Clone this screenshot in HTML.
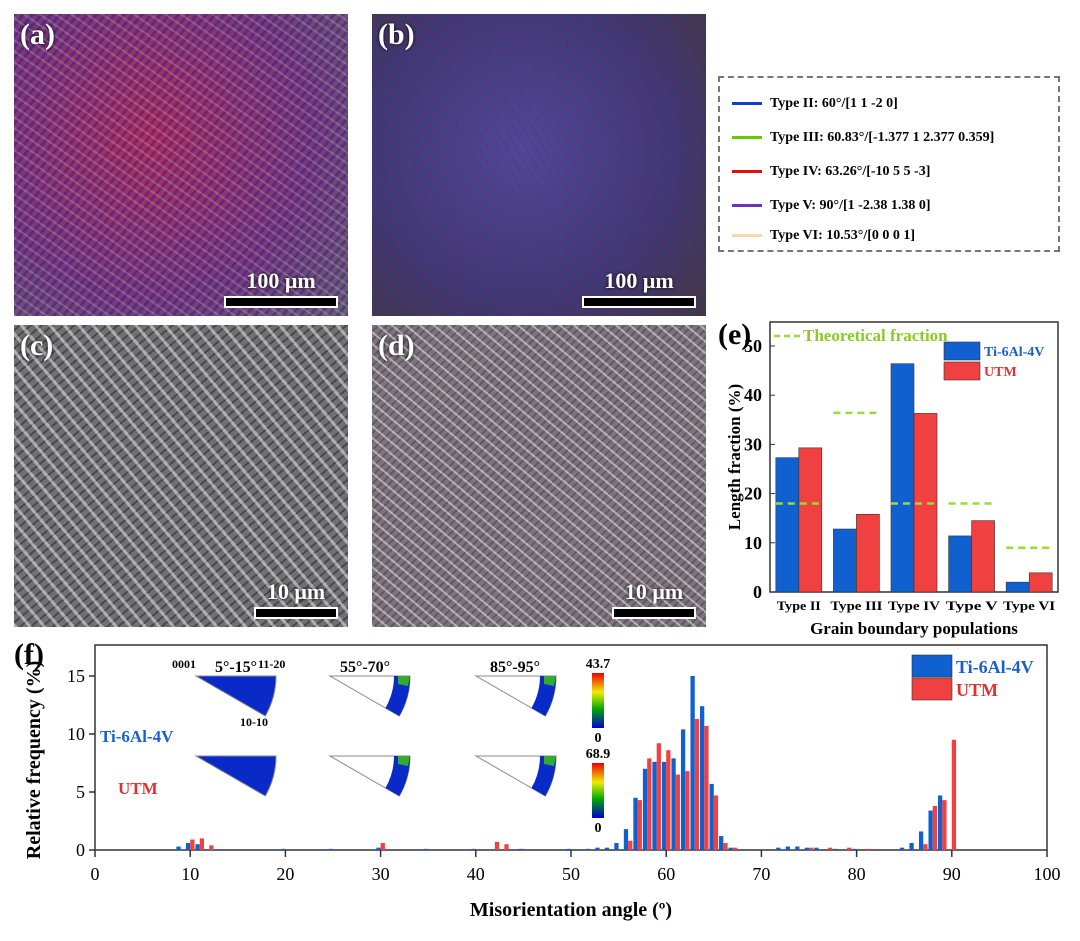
<!DOCTYPE html>
<html><head><meta charset="utf-8"><style>
body{margin:0;width:1080px;height:941px;background:#fff;font-family:"Liberation Serif",serif;position:relative;overflow:hidden}
.mic{position:absolute;width:334px;height:302px;overflow:hidden}
.lab{position:absolute;left:6px;top:4px;font-weight:bold;font-size:30px;color:#fff;text-shadow:0 0 3px #000}
.sb{position:absolute;right:10px;bottom:8px;text-align:center;color:#fff;font-weight:bold;font-size:22px;text-shadow:0 0 3px #000}
.sb div{height:8px;background:#000;border:2px solid #fff;margin-top:2px}
</style></head><body>
<div class="mic" style="left:14px;top:14px;background:repeating-linear-gradient(35deg,rgba(255,255,255,.18) 0 2px,transparent 2px 9px),repeating-linear-gradient(-50deg,rgba(0,0,200,.3) 0 3px,transparent 3px 7px),radial-gradient(circle at 40% 40%,#b03050,#7a3a70 60%,#6a6068)"><span class="lab">(a)</span><div class="sb">100 μm<div style="width:110px"></div></div></div>
<div class="mic" style="left:372px;top:14px;background:repeating-linear-gradient(60deg,rgba(200,0,50,.22) 0 2px,transparent 2px 8px),radial-gradient(circle at 45% 45%,#4a4a9a,#3a3a78 60%,#3a3a48)"><span class="lab">(b)</span><div class="sb">100 μm<div style="width:110px"></div></div></div>
<div class="mic" style="left:14px;top:325px;background:repeating-linear-gradient(50deg,rgba(255,255,255,.45) 0 3px,transparent 3px 11px),repeating-linear-gradient(-40deg,rgba(0,0,0,.35) 0 2px,transparent 2px 7px),#707074"><span class="lab">(c)</span><div class="sb">10 μm<div style="width:80px"></div></div></div>
<div class="mic" style="left:372px;top:325px;background:repeating-linear-gradient(40deg,rgba(255,255,255,.45) 0 2px,transparent 2px 9px),repeating-linear-gradient(-45deg,rgba(60,40,80,.4) 0 2px,transparent 2px 6px),#7c7478"><span class="lab">(d)</span><div class="sb">10 μm<div style="width:80px"></div></div></div>

<div style="position:absolute;left:718px;top:76px;width:342px;height:176px;border:2px dashed #777;box-sizing:border-box;font-size:14px;font-weight:bold">
<div style="position:absolute;left:12px;top:18px"><span style="display:inline-block;width:30px;height:3px;background:#1040c0;vertical-align:middle;margin-right:8px"></span>Type II: 60°/[1 1 -2 0]</div>
<div style="position:absolute;left:12px;top:52px"><span style="display:inline-block;width:30px;height:3px;background:#6c0;vertical-align:middle;margin-right:8px"></span>Type III: 60.83°/[-1.377 1 2.377 0.359]</div>
<div style="position:absolute;left:12px;top:86px"><span style="display:inline-block;width:30px;height:3px;background:#e01010;vertical-align:middle;margin-right:8px"></span>Type IV: 63.26°/[-10 5 5 -3]</div>
<div style="position:absolute;left:12px;top:120px"><span style="display:inline-block;width:30px;height:3px;background:#7030c0;vertical-align:middle;margin-right:8px"></span>Type V: 90°/[1 -2.38 1.38 0]</div>
<div style="position:absolute;left:12px;top:150px"><span style="display:inline-block;width:30px;height:3px;background:#fcd8b0;vertical-align:middle;margin-right:8px"></span>Type VI: 10.53°/[0 0 0 1]</div>
</div>

<svg id="e" width="1080" height="941" style="position:absolute;left:0;top:0" font-family="Liberation Serif" font-weight="bold"></svg>
<script>
const eCats=["Type II","Type III","Type IV","Type V","Type VI"];
const eTi=[27.3,12.8,46.4,11.4,2];
const eUTM=[29.3,15.8,36.3,14.5,3.9];
const eTheo=[18,36.4,18,18,9];
const eTicks=[0,10,20,30,40,50];
const fTiAng=[9,10,11,20,25,30,35,40,45,50,52,53,54,55,56,57,58,59,60,61,62,63,64,65,66,67,72,73,74,75,76,78,80,85,86,87,88,89];
const fTiVal=[0.3,0.6,0.5,0.1,0.1,0.2,0.1,0.1,0.1,0.1,0.1,0.2,0.2,0.6,1.8,4.5,7,7.6,7.6,7.9,10.4,15,12.4,5.7,1.2,0.2,0.2,0.3,0.3,0.2,0.2,0.1,0.1,0.2,0.6,1.6,3.4,4.7];
const fUAng=[10,11,12,30,42,43,56,57,58,59,60,61,62,63,64,65,66,67,75,77,79,81,87,88,89,90];
const fUVal=[0.9,1.0,0.4,0.6,0.7,0.5,0.8,4.3,7.9,9.2,8.6,6.5,6.8,11.3,10.7,4.7,0.6,0.2,0.2,0.2,0.2,0.1,0.5,3.8,4.3,9.5];
const fXT=[0,10,20,30,40,50,60,70,80,90,100];
const fYT=[0,5,10,15];
const svg=document.getElementById('e');const NS='http://www.w3.org/2000/svg';
function mk(t,a,txt){const e=document.createElementNS(NS,t);for(const k in a)e.setAttribute(k,a[k]);if(txt!==undefined)e.textContent=txt;svg.appendChild(e);return e;}
const ex0=770,ex1=1058,ey0=592,eyTop=322;
const ey=v=>ey0-v*4.92;const band=(ex1-ex0)/5;const ex=i=>ex0+band*i+band/2;
let el;
el=mk('rect',{x:ex0,y:eyTop,width:ex1-ex0,height:ey0-eyTop,fill:'none',stroke:'#333','stroke-width':1.5});


eTicks.forEach(t=>{el=mk('text',{x:ex0-8,y:ey(t)+6,'text-anchor':'end','font-size':18},t);


mk('line',{x1:ex0,x2:ex0+5,y1:ey(t),y2:ey(t),stroke:'#333'});});
eCats.forEach((c,i)=>{
el=mk('rect',{x:ex(i)-23,y:ey(eTi[i]),width:23,height:ey0-ey(eTi[i]),fill:'#1060d0',stroke:'#333','stroke-width':0.6});


el=mk('rect',{x:ex(i),y:ey(eUTM[i]),width:23,height:ey0-ey(eUTM[i]),fill:'#f04040',stroke:'#333','stroke-width':0.6});


el=mk('line',{x1:ex(i)-23,x2:ex(i)+23,y1:ey(eTheo[i]),y2:ey(eTheo[i]),stroke:'#9d3','stroke-width':2.5,'stroke-dasharray':'7 5'});


el=mk('text',{x:ex(i),y:ey0+18,'text-anchor':'middle','font-size':13,textLength:i==0?44:52,lengthAdjust:'spacingAndGlyphs'},c);


});
el=mk('text',{x:718,y:344,'font-size':30},'(e)');
el=mk('text',{x:914,y:634,'text-anchor':'middle','font-size':17},'Grain boundary populations');
el=mk('text',{x:740,y:457,'text-anchor':'middle','font-size':17,transform:'rotate(-90 740 457)'},'Length fraction (%)');
mk('line',{x1:774,x2:802,y1:336,y2:336,stroke:'#9d3','stroke-width':2.5,'stroke-dasharray':'6 4'});
el=mk('text',{x:803,y:341,'font-size':17,fill:'#8c2'},'Theoretical fraction');
mk('rect',{x:944,y:342,width:36,height:18,fill:'#1060d0',stroke:'#333','stroke-width':0.6});mk('rect',{x:944,y:362,width:36,height:18,fill:'#f04040',stroke:'#333','stroke-width':0.6});
el=mk('text',{x:984,y:356,'font-size':14,fill:'#1a5fd0'},'Ti-6Al-4V');
el=mk('text',{x:984,y:376,'font-size':14,fill:'#e03030'},'UTM');
const fx0=95,fx1=1047,fy0=850,fTop=645;
const fx=v=>fx0+(fx1-fx0)*v/100;const fy=v=>fy0-v*11.6;
el=mk('rect',{x:fx0,y:fTop,width:fx1-fx0,height:fy0-fTop,fill:'none',stroke:'#333','stroke-width':1.5});


fXT.forEach(t=>{mk('line',{x1:fx(t),x2:fx(t),y1:fy0,y2:fy0+7,stroke:'#333','stroke-width':1.5});
el=mk('text',{x:fx(t),y:fy0+30,'text-anchor':'middle','font-size':18,'font-weight':'normal'},t);

});
fYT.forEach(t=>{mk('line',{x1:fx0-6,x2:fx0,y1:fy(t),y2:fy(t),stroke:'#333','stroke-width':1.5});
el=mk('text',{x:fx0-10,y:fy(t)+6,'text-anchor':'end','font-size':18,'font-weight':'normal'},t);

});
const bw=(fx1-fx0)/100*0.45;
fTiAng.forEach((a,i)=>{el=mk('rect',{x:fx(a)-bw,y:fy(fTiVal[i]),width:bw,height:fy0-fy(fTiVal[i]),fill:'#1060d0'});

});
fUAng.forEach((a,i)=>{el=mk('rect',{x:fx(a),y:fy(fUVal[i]),width:bw,height:fy0-fy(fUVal[i]),fill:'#f04040'});

});
el=mk('text',{x:14,y:664,'font-size':30},'(f)');
el=mk('text',{x:571,y:916,'text-anchor':'middle','font-size':20},'Misorientation angle (º)');
el=mk('text',{x:40,y:760,'text-anchor':'middle','font-size':20,transform:'rotate(-90 40 760)'},'Relative frequency (%)');
mk('rect',{x:912,y:655,width:40,height:22,fill:'#1060d0',stroke:'#333','stroke-width':0.6});mk('rect',{x:912,y:678,width:40,height:22,fill:'#f04040',stroke:'#333','stroke-width':0.6});
el=mk('text',{x:956,y:673,'font-size':18,fill:'#1a5fd0'},'Ti-6Al-4V');
el=mk('text',{x:956,y:696,'font-size':18,fill:'#e03030'},'UTM');
[['5°-15°',236],['55°-70°',365],['85°-95°',515]].forEach(([t,x])=>{el=mk('text',{x:x,y:672,'text-anchor':'middle','font-size':16},t);});
function wedge(x,y,full){const r=80;const a=Math.PI/6;const ex_=x+r*Math.cos(a),ey_=y+r*Math.sin(a);
mk('path',{d:`M${x},${y} L${x+r},${y} A${r},${r} 0 0 1 ${ex_},${ey_} Z`,fill:full?'#0a2ac8':'#fff',stroke:'#888','stroke-width':1});
if(!full){const r2=64;mk('path',{d:`M${x+r2},${y} L${x+r},${y} A${r},${r} 0 0 1 ${ex_},${ey_} L${x+r2*Math.cos(a)},${y+r2*Math.sin(a)} A${r2},${r2} 0 0 0 ${x+r2},${y} Z`,fill:'#0a2ac8'});
mk('path',{d:`M${x+r2+4},${y} L${x+r},${y} L${x+r-2},${y+10} L${x+r2+4},${y+8} Z`,fill:'#3a3'});}}
[[196,676],[196,756]].forEach(p=>wedge(p[0],p[1],true));
[[330,676],[330,756],[476,676],[476,756]].forEach(p=>wedge(p[0],p[1],false));
el=mk('text',{x:100,y:742,'font-size':17,fill:'#1a5fd0'},'Ti-6Al-4V');
el=mk('text',{x:118,y:794,'font-size':17,fill:'#e03030'},'UTM');
mk('text',{x:172,y:668,'font-size':12},'0001');mk('text',{x:258,y:668,'font-size':12},'11-20');mk('text',{x:240,y:726,'font-size':12},'10-10');
const dg=mk('defs',{});dg.innerHTML='<linearGradient id="cb" x1="0" y1="1" x2="0" y2="0"><stop offset="0" stop-color="#00c"/><stop offset=".35" stop-color="#0a0"/><stop offset=".65" stop-color="#ee0"/><stop offset="1" stop-color="#e00"/></linearGradient>';
[[673,'43.7'],[763,'68.9']].forEach(([y,v])=>{el=mk('rect',{x:592,y:y,width:12,height:55,fill:'url(#cb)'});
mk('text',{x:598,y:y-5,'text-anchor':'middle','font-size':14},v);mk('text',{x:598,y:y+69,'text-anchor':'middle','font-size':14},'0');});
</script>
</body></html>
